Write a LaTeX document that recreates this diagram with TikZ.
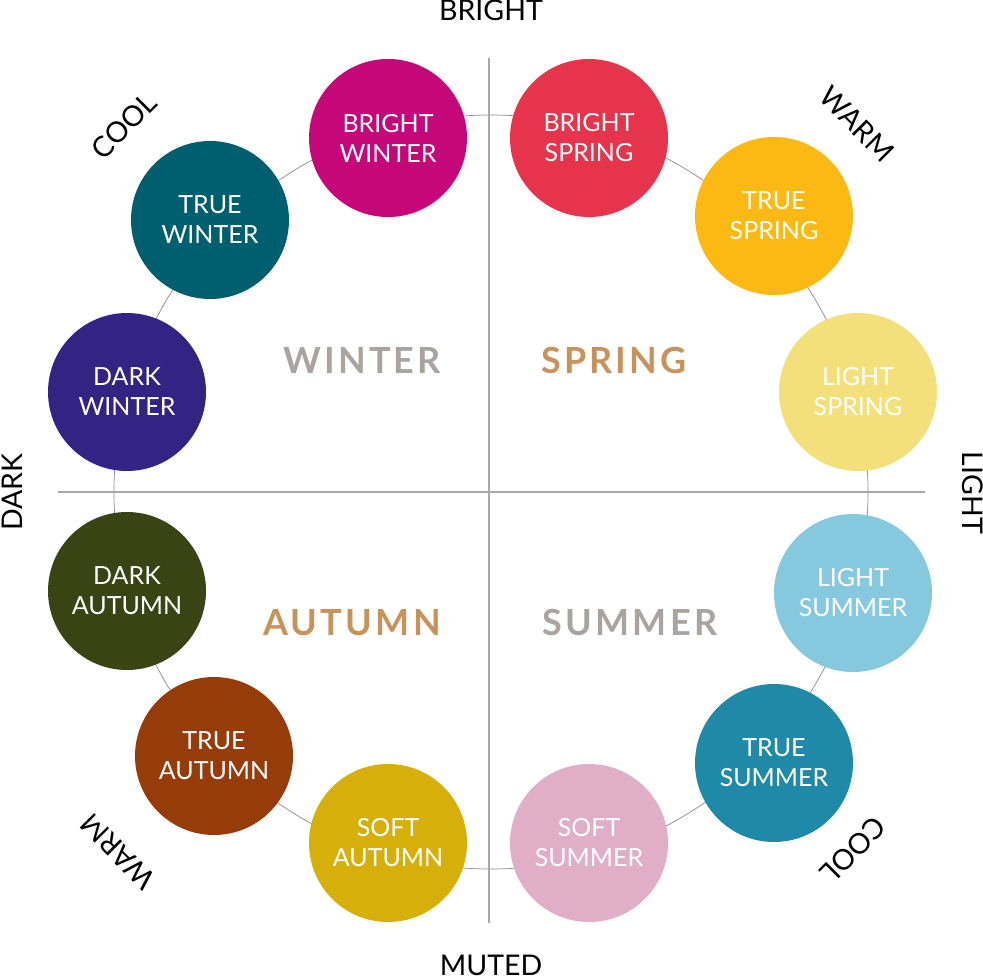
\documentclass[tikz,border=0pt]{standalone}
\usepackage{fontspec}
\setmainfont{Lato}
\definecolor{cBW}{HTML}{C6077A}
\definecolor{cBS}{HTML}{E5344C}
\definecolor{cTW}{HTML}{005F6E}
\definecolor{cTS}{HTML}{FDB913}
\definecolor{cDW}{HTML}{332383}
\definecolor{cLS}{HTML}{F4E07A}
\definecolor{cDA}{HTML}{394313}
\definecolor{cLU}{HTML}{86C8DE}
\definecolor{cTA}{HTML}{963B0A}
\definecolor{cTU}{HTML}{1F89A8}
\definecolor{cSA}{HTML}{D6AF0A}
\definecolor{cSU}{HTML}{E0AFC7}
\definecolor{tGray}{HTML}{A9A49F}
\definecolor{tTan}{HTML}{C8935B}
\definecolor{axisGray}{HTML}{A8A8A8}
\definecolor{ringGray}{HTML}{8A8A8A}
\begin{document}
\begin{tikzpicture}[x=1pt,y=-1pt,
  seasonball/.style={circle,minimum size=158pt,inner sep=0pt,draw=none},
  balltext/.style={text=white,align=center,inner sep=0pt,font=\fontsize{25}{30}\selectfont},
  seasontitle/.style={anchor=base,inner sep=0pt,font=\fontsize{36}{40}\selectfont\bfseries\addfontfeature{LetterSpace=9}},
  axislabel/.style={inner sep=0pt,text=black,font=\fontsize{28.5}{30}\selectfont},
  axisline/.style={draw=axisGray,line width=2.8pt},
  ringline/.style={draw=ringGray,line width=0.7pt}]
\useasboundingbox (0,0) rectangle (983,979);
% ring
\coordinate (ctr) at (491,492);
\draw[ringline] (ctr) circle[radius=377pt];
% axes
\coordinate (axT) at (489,58);
\coordinate (axB) at (489,923);
\coordinate (axL) at (58,492);
\coordinate (axR) at (925,492);
\draw[axisline] (axT) -- (axB);
\draw[axisline] (axL) -- (axR);
% balls
\node[seasonball,fill=cBW] (bw) at (388,138) {};
\node[seasonball,fill=cBS] (bs) at (589,138) {};
\node[seasonball,fill=cTW] (tw) at (210,220) {};
\node[seasonball,fill=cTS] (ts) at (774,216) {};
\node[seasonball,fill=cDW] (dw) at (127,392) {};
\node[seasonball,fill=cLS] (ls) at (858,392) {};
\node[seasonball,fill=cDA] (da) at (127,591) {};
\node[seasonball,fill=cLU] (lu) at (853,593) {};
\node[seasonball,fill=cTA] (ta) at (214,756) {};
\node[seasonball,fill=cTU] (tu) at (774,763) {};
\node[seasonball,fill=cSA] (sa) at (388,843) {};
\node[seasonball,fill=cSU] (su) at (589,843) {};
\node[balltext] (bwt) at (bw) {BRIGHT\\WINTER};
\node[balltext] (bst) at (bs) {BRIGHT\\SPRING};
\node[balltext] (twt) at (tw) {TRUE\\WINTER};
\node[balltext] (tst) at (ts) {TRUE\\SPRING};
\node[balltext] (dwt) at (dw) {DARK\\WINTER};
\node[balltext] (lst) at (ls) {LIGHT\\SPRING};
\node[balltext] (dat) at (da) {DARK\\AUTUMN};
\node[balltext] (lut) at (lu) {LIGHT\\SUMMER};
\node[balltext] (tat) at (ta) {TRUE\\AUTUMN};
\node[balltext] (tut) at (tu) {TRUE\\SUMMER};
\node[balltext] (sat) at (sa) {SOFT\\AUTUMN};
\node[balltext] (sut) at (su) {SOFT\\SUMMER};
% season titles
\node[seasontitle,text=tGray] (winter) at (362,373) {WINTER};
\node[seasontitle,text=tTan] (spring) at (614,373) {SPRING};
\node[seasontitle,text=tTan] (autumn) at (352,635) {AUTUMN};
\node[seasontitle,text=tGray] (summer) at (630,635) {SUMMER};
% axis labels
\node[axislabel,anchor=base] (bright) at (491,21) {BRIGHT};
\node[axislabel,anchor=base] (muted) at (491,975) {MUTED};
\node[axislabel,anchor=base,rotate=90] (dark) at (22,492) {DARK};
\node[axislabel,anchor=base,rotate=-90] (light) at (962,493) {LIGHT};
\node[axislabel,rotate=45] (cooltl) at (124,126) {COOL};
\node[axislabel,rotate=-45] (warmtr) at (857,124) {WARM};
\node[axislabel,rotate=135] (warmbl) at (118,852) {WARM};
\node[axislabel,rotate=225] (coolbr) at (853,850) {COOL};
\end{tikzpicture}
\end{document}
